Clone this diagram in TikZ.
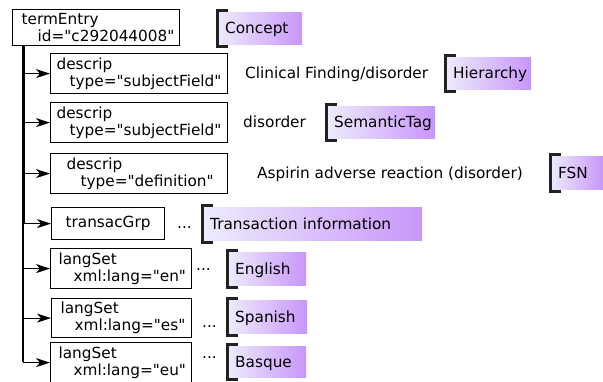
\documentclass[tikz,border=0pt]{standalone}
\usepackage{fontspec}
\setmainfont{DejaVu Sans}[Ligatures=TeXOff]
\usetikzlibrary{arrows.meta,shadings}
\definecolor{tagL}{RGB}{238,236,252}
\definecolor{tagR}{RGB}{200,150,250}
\definecolor{brk}{RGB}{34,34,34}
\tikzset{
  box/.style={draw, line width=1.2pt, anchor=north west, align=left, inner ysep=0pt},
  tag/.style={anchor=north west, left color=tagL, right color=tagR, inner xsep=8pt, inner ysep=0pt, align=left, text height=12pt, text depth=1pt},
  bracketline/.style={draw=brk, line width=3pt},
  plain/.style={anchor=base west, inner sep=0pt},
  arr/.style={line width=1.2pt, -{Stealth[length=14pt,width=9pt,inset=4pt]}},
}
\begin{document}
\begin{tikzpicture}[x=1pt,y=-1pt,font=\fontsize{15.3}{17}\selectfont]
\useasboundingbox (0,0) rectangle (603,381);
% boxes
\node[box, inner xsep=9pt, text width=149pt, minimum height=36pt] (te) at (12,9) {termEntry\\\hspace*{16pt}id="c292044008"};
\node[box, inner xsep=6pt, text width=165pt, minimum height=40pt] (d1) at (50,53) {descrip\\\hspace*{13pt}type="subjectField"};
\node[box, inner xsep=6pt, text width=165pt, minimum height=40pt] (d2) at (50,102) {descrip\\\hspace*{13pt}type="subjectField"};
\node[box, inner xsep=16pt, text width=145pt, minimum height=40pt] (d3) at (50,153) {descrip\\\hspace*{14pt}type="definition"};
\node[box, inner xsep=14pt, text width=85pt, minimum height=32pt] (tg) at (51,207) {transacGrp};
\node[box, inner xsep=8pt, text width=125pt, minimum height=40pt] (en) at (50,248) {langSet\\\hspace*{15pt}xml:lang="en"};
\node[box, inner xsep=9pt, text width=122pt, minimum height=39pt] (es) at (51,298) {langSet\\\hspace*{14pt}xml:lang="es"};
\node[box, inner xsep=8pt, text width=125pt, minimum height=40pt] (eu) at (50,342) {langSet\\\hspace*{15pt}xml:lang="eu"};
% trunk
\coordinate (tTop) at (23,45);
\coordinate (tMid) at (23,223);
\coordinate (tEnd) at (23,362);
\draw[line width=3pt] (tTop) -- (tMid);
\draw[line width=1.2pt] (tMid) -- (tEnd);
\foreach \b in {d1,d2,d3,tg,en,es,eu}
  \draw[arr] (\b.west -| tTop) -- (\b.west);
% plain texts
\node[plain] (clin) at (245,78.5) {Clinical Finding/disorder};
\node[plain] (dis) at (243,127) {disorder};
\node[plain] (asp) at (257,178.5) {Aspirin adverse reaction (disorder)};
\node[plain] (e1) at (177,228.5) {...};
\node[plain] (e2) at (196,270.5) {...};
\node[plain] (e3) at (202,327.5) {...};
\node[plain] (e4) at (202,358.5) {...};
% tags
\node[tag, text width=69pt, minimum height=32pt] (concept) at (217,12) {Concept};
\node[tag, text width=70pt, minimum height=32pt] (hier) at (445,57) {Hierarchy};
\node[tag, text width=93pt, minimum height=32pt] (sem) at (326,106) {SemanticTag};
\node[tag, text width=37pt, minimum height=33pt] (fsn) at (550,156) {FSN};
\node[tag, text width=204pt, minimum height=33pt] (trans) at (202,207) {Transaction information};
\node[tag, text width=63pt, minimum height=33pt] (eng) at (227,252) {English};
\node[tag, text width=64pt, minimum height=33pt] (spa) at (227,300) {Spanish};
\node[tag, text width=63pt, minimum height=31pt] (bas) at (227,346) {Basque};
\foreach \t in {concept,hier,sem,fsn,trans,eng,spa,bas}
  \draw[bracketline] ([xshift=11pt,yshift=1.5pt]\t.north west) -- ([yshift=1.5pt]\t.north west)
    -- ([yshift=-2.5pt]\t.south west) -- ([xshift=11pt,yshift=-2.5pt]\t.south west);
\end{tikzpicture}
\end{document}
